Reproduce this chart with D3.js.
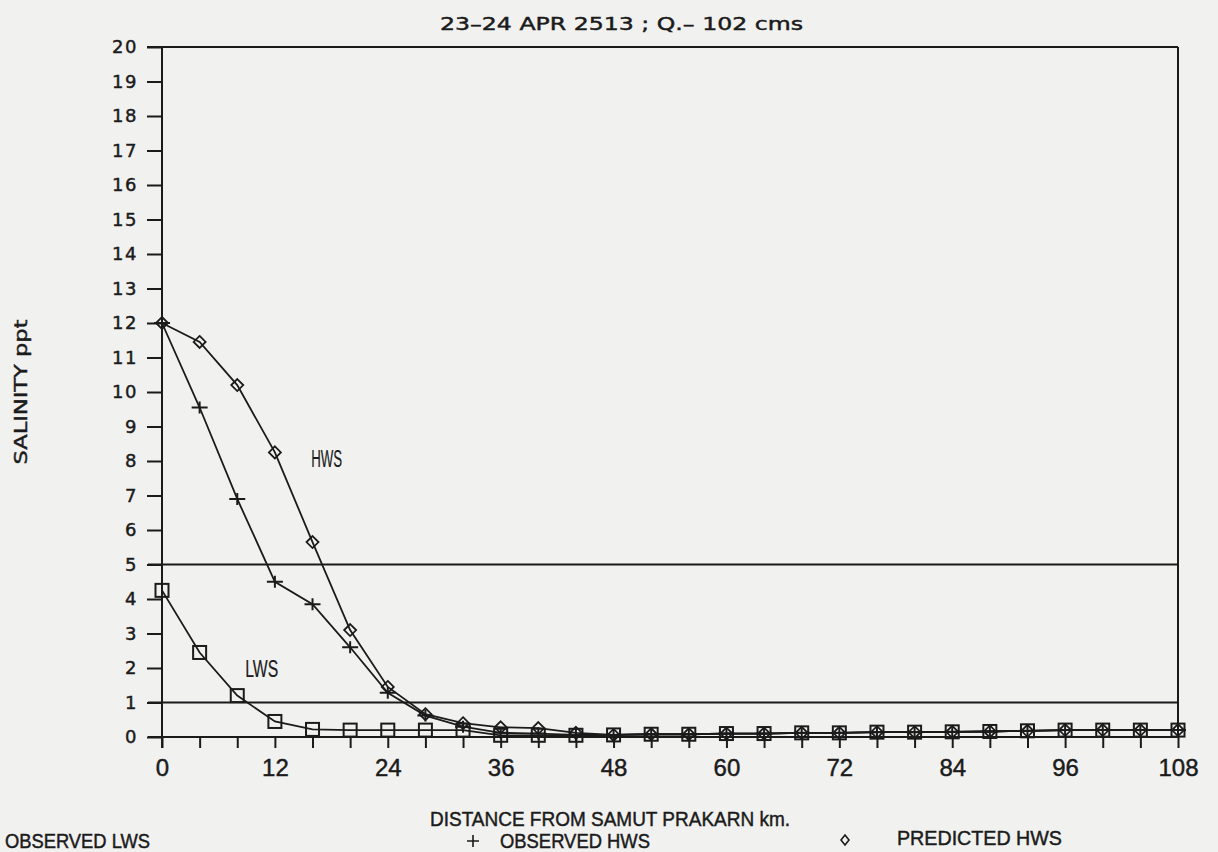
<!DOCTYPE html>
<html>
<head>
<meta charset="utf-8">
<script src="https://cdn.jsdelivr.net/npm/d3@7"></script>
<style>
  body { margin: 0; background: #f1f1f0; }
  svg { display: block; }
  text { fill: #1b1b1b; stroke: #1b1b1b; stroke-width: 0.45px; }
</style>
</head>
<body>
<svg width="1218" height="852"></svg>
<script>
'use strict';

// data (salinity ppt vs distance km)
const distanceKm = [0, 4, 8, 12, 16, 20, 24, 28, 32, 36, 40, 44, 48, 52,
                    56, 60, 64, 68, 72, 76, 80, 84, 88, 92, 96, 100, 104, 108];
const observedLws = [4.25, 2.45, 1.2, 0.45, 0.22, 0.2, 0.2, 0.2, 0.2, 0.05, 0.05, 0.05, 0.06, 0.08,
                     0.08, 0.1, 0.1, 0.12, 0.12, 0.14, 0.14, 0.15, 0.16, 0.18, 0.2, 0.2, 0.2, 0.2];
const observedHws = [12, 9.55, 6.9, 4.5, 3.85, 2.6, 1.28, 0.62, 0.3, 0.12, 0.1, 0.06, 0.06, 0.08,
                     0.08, 0.1, 0.1, 0.12, 0.12, 0.14, 0.14, 0.15, 0.16, 0.18, 0.2, 0.2, 0.2, 0.2];
const predictedHws = [12, 11.45, 10.2, 8.25, 5.65, 3.1, 1.45, 0.66, 0.4, 0.28, 0.26, 0.12, 0.06, 0.08,
                      0.08, 0.1, 0.1, 0.12, 0.12, 0.14, 0.14, 0.15, 0.16, 0.18, 0.2, 0.2, 0.2, 0.2];
const xLabelTicks = [0, 12, 24, 36, 48, 60, 72, 84, 96, 108];
const yTicks = [0, 1, 2, 3, 4, 5, 6, 7, 8, 9, 10, 11, 12, 13, 14, 15, 16, 17, 18, 19, 20];
const limitLines = [5, 1];

const titleText = "23\u201324 APR 2513 ; Q.\u2013 102 cms";
const xTitle = "DISTANCE FROM SAMUT PRAKARN km.";
const yTitle = "SALINITY ppt";

const ink = "#1b1b1b";
const svg = d3.select("svg");
const margin = {top: 47, left: 162, right: 40, bottom: 115};
const width = 1218 - margin.left - margin.right;   // 1016
const height = 852 - margin.top - margin.bottom;   // 690

const x = d3.scaleLinear().domain([0, 108]).range([0, width]);
const y = d3.scaleLinear().domain([0, 20]).range([height, 0]);

const g = svg.append("g")
    .attr("transform", "translate(" + margin.left + "," + margin.top + ")");

// frame: top border, x axis line and the two limit lines
function hline(v, x0) {
  g.append("line")
      .attr("x1", x0).attr("x2", x(108))
      .attr("y1", y(v)).attr("y2", y(v))
      .attr("stroke", ink).attr("stroke-width", 2);
}
hline(20, -15);
hline(0, -14);
limitLines.forEach(function(v) { hline(v, -14); });

// left axis line (runs past 0) and right border
g.append("line")
    .attr("x1", x(0)).attr("x2", x(0))
    .attr("y1", y(20)).attr("y2", y(0) + 11)
    .attr("stroke", ink).attr("stroke-width", 2);
g.append("line")
    .attr("x1", x(108)).attr("x2", x(108))
    .attr("y1", y(20)).attr("y2", y(0))
    .attr("stroke", ink).attr("stroke-width", 2);

// y axis
const yAxis = d3.axisLeft(y).tickValues(yTicks).tickSize(15).tickPadding(9);
const yg = g.append("g").call(yAxis);
yg.select(".domain").remove();
yg.selectAll("line").attr("stroke", ink).attr("stroke-width", 2);
yg.selectAll("text")
    .attr("fill", ink)
    .style("font-family", "'DejaVu Sans', sans-serif")
    .style("font-size", "18px")
    .style("letter-spacing", "1.5px");

// x axis: small ticks at each station, labels every 12 km
const xTickAxis = d3.axisBottom(x).tickValues(distanceKm).tickSize(11).tickFormat("");
const xtg = g.append("g").attr("transform", "translate(0," + height + ")").call(xTickAxis);
xtg.select(".domain").remove();
xtg.selectAll("line").attr("stroke", ink).attr("stroke-width", 2);

const xLabelAxis = d3.axisBottom(x).tickValues(xLabelTicks).tickSize(0).tickPadding(22);
const xlg = g.append("g").attr("transform", "translate(0," + height + ")").call(xLabelAxis);
xlg.select(".domain").remove();
xlg.selectAll("text")
    .attr("fill", ink)
    .style("font-family", "'Liberation Sans', Arial, sans-serif")
    .style("font-size", "24px");

// series lines
function seriesLine(values) {
  return d3.line()
      .x(function(d, i) { return x(distanceKm[i]); })
      .y(function(d) { return y(d); })(values);
}
[observedLws, observedHws, predictedHws].forEach(function(vals) {
  g.append("path")
      .attr("d", seriesLine(vals))
      .attr("fill", "none")
      .attr("stroke", ink)
      .attr("stroke-width", 1.8);
});

// markers
g.append("g").selectAll("rect")
  .data(observedLws)
  .join("rect")
    .attr("x", function(d, i) { return x(distanceKm[i]) - 6.5; })
    .attr("y", function(d) { return y(d) - 6.5; })
    .attr("width", 13).attr("height", 13)
    .attr("fill", "none").attr("stroke", ink).attr("stroke-width", 2);

g.append("g").selectAll("path")
  .data(observedHws)
  .join("path")
    .attr("transform", function(d, i) { return "translate(" + x(distanceKm[i]) + "," + y(d) + ")"; })
    .attr("d", "M-8,0H8M0,-6V6")
    .attr("fill", "none").attr("stroke", ink).attr("stroke-width", 2);

g.append("g").selectAll("path")
  .data(predictedHws)
  .join("path")
    .attr("transform", function(d, i) { return "translate(" + x(distanceKm[i]) + "," + y(d) + ")"; })
    .attr("d", "M0,-6L6,0L0,6L-6,0Z")
    .attr("fill", "none").attr("stroke", ink).attr("stroke-width", 1.8);

// curve labels
g.append("text")
    .attr("x", x(17.5)).attr("y", y(8.1) + 9)
    .attr("text-anchor", "middle")
    .attr("textLength", 31).attr("lengthAdjust", "spacingAndGlyphs")
    .style("font-family", "'Liberation Sans', sans-serif")
    .style("font-size", "23px")
    .style("stroke-width", "0.2px")
    .text("HWS");
g.append("text")
    .attr("x", x(10.6)).attr("y", y(2.0) + 9)
    .attr("text-anchor", "middle")
    .attr("textLength", 33).attr("lengthAdjust", "spacingAndGlyphs")
    .style("font-family", "'Liberation Sans', sans-serif")
    .style("font-size", "23px")
    .style("stroke-width", "0.2px")
    .text("LWS");

// titles
svg.append("text")
    .attr("x", 440).attr("y", 30)
    .attr("textLength", 363).attr("lengthAdjust", "spacingAndGlyphs")
    .style("font-family", "'DejaVu Sans', sans-serif")
    .style("font-size", "18px")
    .text(titleText);

svg.append("text")
    .attr("transform", "translate(27,392) rotate(-90)")
    .attr("text-anchor", "middle")
    .attr("textLength", 145).attr("lengthAdjust", "spacingAndGlyphs")
    .style("font-family", "'DejaVu Sans', sans-serif")
    .style("font-size", "17px")
    .text(yTitle);

svg.append("text")
    .attr("x", 430).attr("y", 826)
    .attr("textLength", 360).attr("lengthAdjust", "spacingAndGlyphs")
    .style("font-family", "'Liberation Sans', sans-serif")
    .style("font-size", "21px")
    .text(xTitle);

// legend row
const legendFont = "'Liberation Sans', sans-serif";
svg.append("text")
    .attr("x", 5).attr("y", 848)
    .attr("textLength", 145).attr("lengthAdjust", "spacingAndGlyphs")
    .style("font-family", legendFont).style("font-size", "20px")
    .text("OBSERVED LWS");
svg.append("path")
    .attr("transform", "translate(473,841)")
    .attr("d", "M-6,0H6M0,-6V6")
    .attr("fill", "none").attr("stroke", ink).attr("stroke-width", 1.6);
svg.append("text")
    .attr("x", 500).attr("y", 848)
    .attr("textLength", 150).attr("lengthAdjust", "spacingAndGlyphs")
    .style("font-family", legendFont).style("font-size", "20px")
    .text("OBSERVED HWS");
svg.append("path")
    .attr("transform", "translate(845,840)")
    .attr("d", "M0,-5L4,0L0,5L-4,0Z")
    .attr("fill", "none").attr("stroke", ink).attr("stroke-width", 1.6);
svg.append("text")
    .attr("x", 897).attr("y", 845)
    .attr("textLength", 165).attr("lengthAdjust", "spacingAndGlyphs")
    .style("font-family", legendFont).style("font-size", "20px")
    .text("PREDICTED HWS");
</script>
</body>
</html>
